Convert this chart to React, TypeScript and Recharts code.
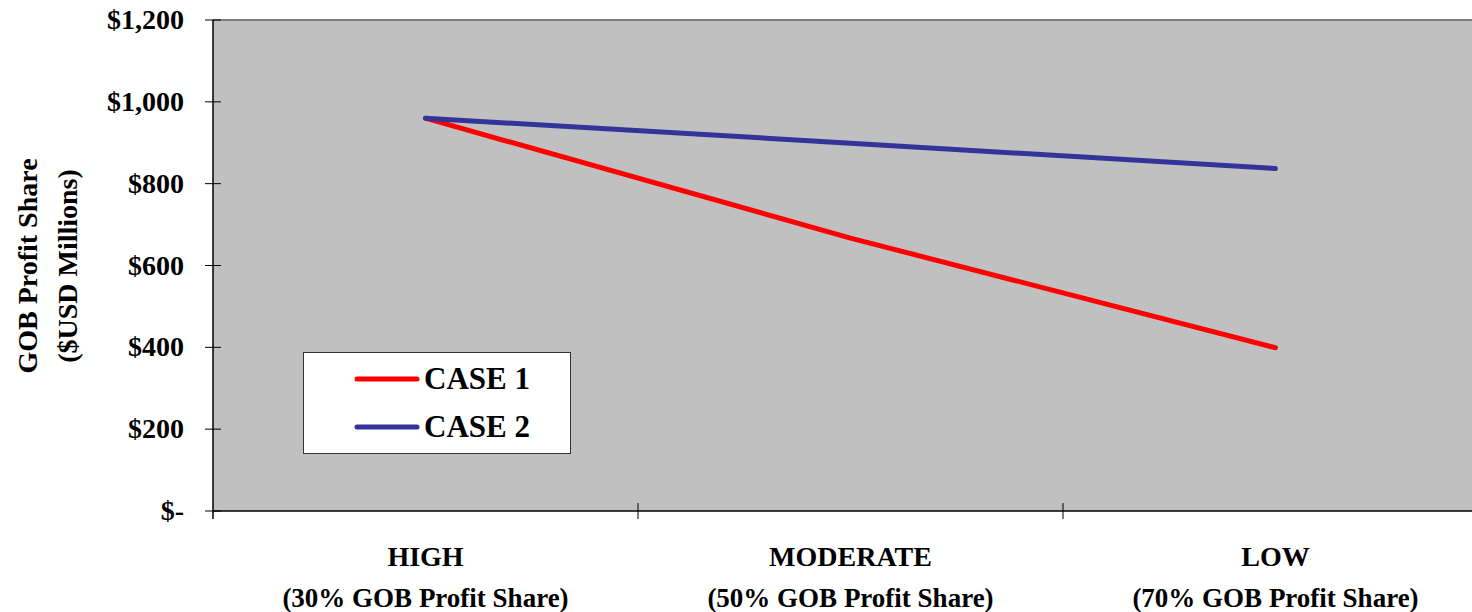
import React from 'react';
import { LineChart, Line, XAxis, YAxis, CartesianGrid, Legend, ReferenceLine } from 'recharts';

const CATEGORIES = ['HIGH', 'MODERATE', 'LOW'];
const SUBTITLES = ['(30% GOB Profit Share)', '(50% GOB Profit Share)', '(70% GOB Profit Share)'];
const CASE_1 = [960, 667, 399];
const CASE_2 = [960, 899, 837];
const Y_TICKS = [0, 200, 400, 600, 800, 1000, 1200];

const data = CATEGORIES.map((name, i) => ({ name, case1: CASE_1[i], case2: CASE_2[i] }));

const font = '"Liberation Serif", "Times New Roman", serif';
const axisColor = '#000000';

const fmtMoney = (v: number) => (v === 0 ? '$-' : '$' + v.toLocaleString('en-US'));

// category label plus tick marks on the band edges (Excel-style)
const CategoryTick = ({ x, y, payload, index, width, visibleTicksCount }: any) => {
  const band = width / (visibleTicksCount || CATEGORIES.length);
  const right = x + band / 2;
  const left = x - band / 2;
  return (
    <g>
      {index === 0 && <line x1={left} x2={left} y1={y} y2={y + 8} stroke={axisColor} strokeWidth={1.5} />}
      <line x1={right} x2={right} y1={y - 8} y2={y + 8} stroke={axisColor} strokeWidth={1} />
      <text x={x} y={y + 55} textAnchor="middle" fontFamily={font} fontWeight="bold" fontSize={28} fill="#000">
        {payload.value}
      </text>
      <text x={x} y={y + 96} textAnchor="middle" fontFamily={font} fontWeight="bold" fontSize={27} fill="#000">
        {SUBTITLES[index]}
      </text>
    </g>
  );
};

const MoneyTick = ({ x, y, payload }: any) => (
  <g>
    <line x1={x} x2={x + 16} y1={y} y2={y} stroke={axisColor} strokeWidth={1} />
    <text x={x - 21} y={y} dy={9} textAnchor="end" fontFamily={font} fontWeight="bold" fontSize={28} fill="#000">
      {fmtMoney(payload.value)}
    </text>
  </g>
);

const YLabel = () => (
  <g fontFamily={font} fontWeight="bold" fontSize={28} fill="#000">
    <text x={27} y={266} transform="rotate(-90, 27, 266)" textAnchor="middle" dominantBaseline="central">
      GOB Profit Share
    </text>
    <text x={67} y={266} transform="rotate(-90, 67, 266)" textAnchor="middle" dominantBaseline="central">
      ($USD Millions)
    </text>
  </g>
);

const LegendBox = ({ payload }: any) => (
  <div
    style={{
      position: 'relative', width: 266, height: 100, background: '#fff',
      border: '1px solid #333', fontFamily: font, fontWeight: 'bold', fontSize: 31, color: '#000',
    }}
  >
    {(payload || []).map((p: any, i: number) => (
      <div key={i} style={{ position: 'absolute', left: 50, top: 26 + i * 48 - 18, height: 36, display: 'flex', alignItems: 'center' }}>
        <svg width={66} height={8} style={{ display: 'block' }}>
          <line x1={3} x2={63} y1={4} y2={4} stroke={p.color} strokeWidth={5} strokeLinecap="round" />
        </svg>
        <span style={{ marginLeft: 4, lineHeight: '36px' }}>{p.value}</span>
      </div>
    ))}
  </div>
);

export default function App() {
  return (
    <div style={{ position: 'absolute', left: 0, top: 0, width: 1472, height: 612, overflow: 'hidden', background: '#fff' }}>
      <LineChart width={1490} height={612} data={data} margin={{ top: 20, right: 2, bottom: 0, left: 0 }}>
        <CartesianGrid horizontal={false} vertical={false} fill="#C0C0C0" />
        <XAxis
          dataKey="name" scale="band" height={101} tickLine={false} tickSize={0} tickMargin={0}
          axisLine={{ stroke: axisColor, strokeWidth: 1.5 }} tick={<CategoryTick />} interval={0}
        />
        <YAxis
          domain={[0, 1200]} ticks={Y_TICKS} width={213} tickLine={false} tickSize={8} tickMargin={0}
          axisLine={{ stroke: axisColor, strokeWidth: 1.5 }} tick={<MoneyTick />} label={<YLabel />}
        />
        <ReferenceLine y={1200} stroke="#808080" strokeWidth={2} />
        <Legend
          layout="vertical" align="center" verticalAlign="middle" content={<LegendBox />}
          wrapperStyle={{ left: 303, top: 352, width: 268, height: 102 }}
        />
        <Line dataKey="case1" name="CASE 1" stroke="#FF0000" strokeWidth={5} strokeLinecap="round" dot={false} isAnimationActive={false} />
        <Line dataKey="case2" name="CASE 2" stroke="#333399" strokeWidth={5} strokeLinecap="round" dot={false} isAnimationActive={false} />
      </LineChart>
    </div>
  );
}
